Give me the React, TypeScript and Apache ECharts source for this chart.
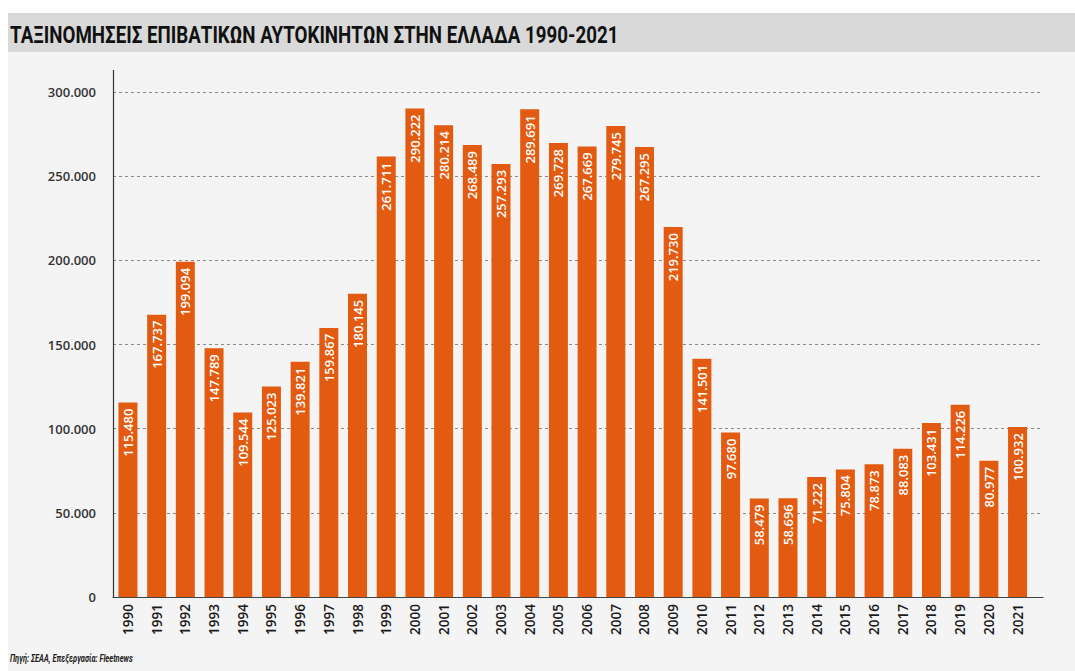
import React, { useEffect, useRef } from "react";
import * as echarts from "echarts";

const years = [
  "1990", "1991", "1992", "1993", "1994", "1995", "1996", "1997", "1998", "1999",
  "2000", "2001", "2002", "2003", "2004", "2005", "2006", "2007", "2008", "2009",
  "2010", "2011", "2012", "2013", "2014", "2015", "2016", "2017", "2018", "2019",
  "2020", "2021",
];
const registrations = [
  115480, 167737, 199094, 147789, 109544, 125023, 139821, 159867, 180145, 261711,
  290222, 280214, 268489, 257293, 289691, 269728, 267669, 279745, 267295, 219730,
  141501, 97680, 58479, 58696, 71222, 75804, 78873, 88083, 103431, 114226,
  80977, 100932,
];
const yMin = 0;
const yMax = 300000;
const yStep = 50000;
const title = "ΤΑΞΙΝΟΜΗΣΕΙΣ ΕΠΙΒΑΤΙΚΩΝ ΑΥΤΟΚΙΝΗΤΩΝ ΣΤΗΝ ΕΛΛΑΔΑ 1990-2021";
const source = "Πηγή: ΣΕΑΑ, Επεξεργασία: Fleetnews";

const fmt = (v: number) =>
  String(Math.round(v)).replace(/\B(?=(\d{3})+(?!\d))/g, ".");

export default function App() {
  const ref = useRef<HTMLDivElement>(null);
  useEffect(() => {
    document.body.style.margin = "0";
    document.body.style.overflow = "hidden";
    const chart = echarts.init(ref.current!, undefined, { renderer: "svg" });
    chart.setOption({
      animation: false,
      backgroundColor: "#ffffff",
      graphic: [
        { type: "rect", z: -10, shape: { x: 8, y: 13, width: 1067, height: 658 }, style: { fill: "#f4f4f4" } },
        { type: "rect", z: -9, shape: { x: 8, y: 13, width: 1067, height: 39 }, style: { fill: "#d9d9d9" } },
        {
          type: "text", x: 10, y: 35, scaleX: 0.815,
          style: {
            text: title, fill: "#111", font: "bold 23px Roboto",
            verticalAlign: "middle", align: "left",
          },
        },
        {
          type: "text", x: 10, y: 658, scaleX: 0.68,
          style: {
            text: source, fill: "#222", font: "italic bold 11px Roboto",
            verticalAlign: "middle", align: "left",
          },
        },
        {
          type: "line", z: 10,
          shape: { x1: 113.5, y1: 70, x2: 113.5, y2: 597.5 },
          style: { stroke: "#333", lineWidth: 1.2 },
        },
      ],
      grid: [
        { left: 113, top: 92, width: 930, height: 505 },
        { left: 113.6, top: 92, width: 918.3, height: 505 },
      ],
      xAxis: [
        {
          gridIndex: 0, type: "value", min: 0, max: 1,
          axisLine: { show: true, lineStyle: { color: "#444", width: 1.2 } },
          axisTick: { show: false }, axisLabel: { show: false }, splitLine: { show: false },
        },
        {
          gridIndex: 1, type: "category", data: years,
          axisLine: { show: false }, axisTick: { show: false },
          axisLabel: {
            rotate: 90, margin: 7, color: "#1a1a1a", fontSize: 13.5,
            fontFamily: "Open Sans", fontWeight: 600, interval: 0,
          },
        },
      ],
      yAxis: [
        {
          gridIndex: 0, type: "value", min: yMin, max: yMax, interval: yStep,
          axisLine: { show: false }, axisTick: { show: false },
          axisLabel: {
            margin: 17, color: "#333", fontSize: 13, fontFamily: "Open Sans",
            fontWeight: 600, formatter: (v: number) => fmt(v),
          },
          splitLine: { show: true, lineStyle: { color: "#8a8a8a", type: [3, 3], width: 1 } },
        },
        {
          gridIndex: 1, type: "value", min: yMin, max: yMax, interval: yStep, show: false,
          splitLine: { show: false },
        },
      ],
      series: [
        {
          type: "bar", xAxisIndex: 1, yAxisIndex: 1, data: registrations, barWidth: 19,
          itemStyle: { color: "#e25b10" },
          label: {
            show: true, position: "insideTop", rotate: 90, align: "right",
            verticalAlign: "middle", distance: 6, color: "#ffffff", fontSize: 13,
            fontFamily: "Open Sans", fontWeight: 600,
            formatter: (p: any) => fmt(p.value),
          },
        },
      ],
    });
    return () => chart.dispose();
  }, []);
  return <div ref={ref} style={{ width: 1075, height: 671 }} />;
}
